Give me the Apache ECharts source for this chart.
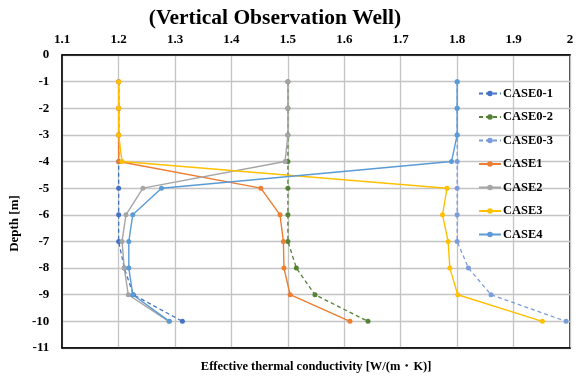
<!DOCTYPE html>
<html>
<head>
<meta charset="utf-8">
<script src="https://cdn.jsdelivr.net/npm/echarts@6/dist/echarts.min.js"></script>
<style>
  html, body { margin: 0; padding: 0; background: #fff; }
  #chart { width: 580px; height: 378px; }
</style>
</head>
<body>
<div id="chart"></div>
<script>
// depth of each measuring point [m]
var depths = [-1, -2, -3, -4, -5, -6, -7, -8, -9, -10];

// effective thermal conductivity per case [W/(m・K)]
var case01 = [1.2, 1.2, 1.2, 1.2, 1.2, 1.2, 1.2, 1.21, 1.226, 1.313];
var case02 = [1.5, 1.5, 1.5, 1.5, 1.5, 1.5, 1.5, 1.515, 1.548, 1.642];
var case03 = [1.8, 1.8, 1.8, 1.8, 1.8, 1.8, 1.8, 1.82, 1.86, 1.993];
var case1 = [1.2, 1.2, 1.2, 1.2, 1.452, 1.486, 1.492, 1.493, 1.504, 1.61];
var case2 = [1.5, 1.5, 1.5, 1.495, 1.243, 1.213, 1.206, 1.21, 1.217, 1.289];
var case3 = [1.2, 1.2, 1.2, 1.206, 1.782, 1.774, 1.784, 1.787, 1.801, 1.951];
var case4 = [1.8, 1.8, 1.8, 1.79, 1.276, 1.225, 1.218, 1.218, 1.225, 1.29];

var caseNames = ['CASE0-1', 'CASE0-2', 'CASE0-3', 'CASE1', 'CASE2', 'CASE3', 'CASE4'];
var caseValues = [case01, case02, case03, case1, case2, case3, case4];
var caseColors = ['#4472C4', '#548235', '#7A9CDA', '#ED7D31', '#A5A5A5', '#FFC000', '#5B9BD5'];
var caseDashed = [true, true, true, false, false, false, false];

var serif = '"Liberation Serif", "DejaVu Serif", serif';

function pairs(vals) {
    var out = [];
    for (var i = 0; i < depths.length; i++) {
        out.push([vals[i], depths[i]]);
    }
    return out;
}

var series = [];
for (var i = 0; i < caseNames.length; i++) {
    series.push({
        name: caseNames[i],
        type: 'line',
        xAxisIndex: 0,
        symbol: 'circle',
        symbolSize: 5,
        color: caseColors[i],
        lineStyle: {
            width: caseDashed[i] ? 1.3 : 1.4,
            type: caseDashed[i] ? [4, 3] : 'solid',
            color: caseColors[i]
        },
        itemStyle: { color: caseColors[i] },
        data: pairs(caseValues[i])
    });
}

var chart = echarts.init(document.getElementById('chart'));
var option = {
    animation: false,
    title: {
        text: '(Vertical Observation Well)',
        left: 270,
        textAlign: 'center',
        top: 2,
        textStyle: {
            fontFamily: serif,
            fontWeight: 'bold',
            fontSize: 21.5,
            color: '#000'
        }
    },
    legend: {
        orient: 'vertical',
        left: 473,
        top: 82,
        itemWidth: 22,
        itemHeight: 7,
        itemGap: 10.5,
        textStyle: {
            fontFamily: serif,
            fontWeight: 'bold',
            fontSize: 12.5,
            color: '#000',
            padding: [0, 0, 0, -3]
        },
        data: caseNames
    },
    grid: {
        left: 61,
        right: 10,
        top: 55,
        bottom: 24,
        show: true,
        borderColor: '#000',
        borderWidth: 1.5
    },
    xAxis: [
        {
            type: 'value',
            position: 'top',
            min: 1.1,
            max: 2,
            interval: 0.1,
            axisLine: { show: true, lineStyle: { color: '#000', width: 1.5 } },
            axisTick: { show: false },
            splitLine: { show: true, lineStyle: { color: '#C4C4C4', width: 1.3 } },
            axisLabel: {
                margin: 9,
                fontFamily: serif,
                fontWeight: 'bold',
                fontSize: 13,
                color: '#000',
                formatter: function (v) { return String(Math.round(v * 10) / 10); }
            }
        },
        {
            type: 'value',
            position: 'bottom',
            min: 1.1,
            max: 2,
            interval: 0.1,
            axisLine: { show: true, lineStyle: { color: '#000', width: 1.5 } },
            axisTick: { show: false },
            axisLabel: { show: false },
            splitLine: { show: false },
            name: 'Effective thermal conductivity [W/(m・K)]',
            nameLocation: 'middle',
            nameGap: 12,
            nameTextStyle: {
                fontFamily: serif,
                fontWeight: 'bold',
                fontSize: 12.5,
                color: '#000'
            }
        }
    ],
    yAxis: {
        type: 'value',
        min: -11,
        max: 0,
        interval: 1,
        axisLine: { show: true, lineStyle: { color: '#000', width: 1.5 } },
        axisTick: { show: false },
        splitLine: { show: true, lineStyle: { color: '#C4C4C4', width: 1.3 } },
        axisLabel: {
            margin: 13,
            fontFamily: serif,
            fontWeight: 'bold',
            fontSize: 13,
            color: '#000'
        },
        name: 'Depth [m]',
        nameLocation: 'middle',
        nameGap: 31,
        nameTextStyle: {
            fontFamily: serif,
            fontWeight: 'bold',
            fontSize: 13,
            color: '#000',
            padding: [0, 44, 0, 0]
        }
    },
    series: series
};
chart.setOption(option);
</script>
</body>
</html>
